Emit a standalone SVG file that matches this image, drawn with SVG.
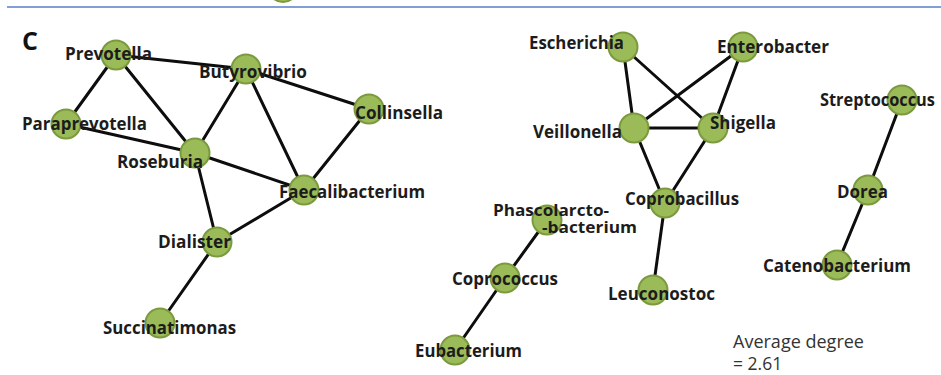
<svg xmlns="http://www.w3.org/2000/svg" width="941" height="375" viewBox="0 0 941 375">
  <style>
    .edge { stroke: #0d0d0d; stroke-width: 3; stroke-linecap: round; fill: none; }
    .node circle { fill: #9bbb59; stroke: #7b9a3e; stroke-width: 2; }
    .lbl { font-family: "Open Sans", "Liberation Sans", sans-serif; font-weight: 700; font-size: 17.5px; fill: #1c1c1c; }
    .lbl2 { font-family: "Open Sans", "Liberation Sans", sans-serif; font-weight: 700; font-size: 16px; fill: #1c1c1c; }
    .note { font-family: "Open Sans", "Liberation Sans", sans-serif; font-weight: 400; font-size: 17.5px; fill: #333333; }
    .panel { font-family: "Open Sans", "Liberation Sans", sans-serif; font-weight: 700; font-size: 25px; fill: #111111; }
  </style>
  <rect width="941" height="375" fill="#ffffff"/>

  <!-- separator from the panel above -->
  <circle cx="283" cy="-13" r="15" fill="#9bbb59" stroke="#7b9a3e" stroke-width="2"/>
  <line x1="7" y1="7" x2="941" y2="7" stroke="#7f9fd6" stroke-width="2"/>

  <text class="panel" x="22" y="50">C</text>

  <g id="edges">
    <line class="edge" x1="116" y1="55" x2="246" y2="69"/>
    <line class="edge" x1="116" y1="55" x2="66" y2="124"/>
    <line class="edge" x1="116" y1="55" x2="195" y2="153"/>
    <line class="edge" x1="66" y1="124" x2="195" y2="153"/>
    <line class="edge" x1="246" y1="69" x2="195" y2="153"/>
    <line class="edge" x1="246" y1="69" x2="304" y2="190"/>
    <line class="edge" x1="246" y1="69" x2="369" y2="109"/>
    <line class="edge" x1="369" y1="109" x2="304" y2="190"/>
    <line class="edge" x1="195" y1="153" x2="304" y2="190"/>
    <line class="edge" x1="195" y1="153" x2="217" y2="242"/>
    <line class="edge" x1="217" y1="242" x2="304" y2="190"/>
    <line class="edge" x1="217" y1="242" x2="160" y2="323"/>

    <line class="edge" x1="623" y1="47" x2="634" y2="128"/>
    <line class="edge" x1="623" y1="47" x2="713" y2="128"/>
    <line class="edge" x1="743" y1="47" x2="634" y2="128"/>
    <line class="edge" x1="743" y1="47" x2="713" y2="128"/>
    <line class="edge" x1="634" y1="128" x2="713" y2="128"/>
    <line class="edge" x1="634" y1="128" x2="665" y2="203"/>
    <line class="edge" x1="713" y1="128" x2="665" y2="203"/>
    <line class="edge" x1="665" y1="203" x2="653" y2="290"/>

    <line class="edge" x1="902" y1="100" x2="868" y2="190"/>
    <line class="edge" x1="868" y1="190" x2="837" y2="265"/>

    <line class="edge" x1="547" y1="220" x2="505" y2="278"/>
    <line class="edge" x1="505" y1="278" x2="455" y2="350"/>
  </g>

  <g id="node-prevotella" class="node"><circle cx="116" cy="55" r="14.5"/><text class="lbl" x="65" y="60" textLength="87" lengthAdjust="spacingAndGlyphs">Prevotella</text></g>
  <g id="node-butyrovibrio" class="node"><circle cx="246" cy="69" r="14.5"/><text class="lbl" x="199" y="78" textLength="108" lengthAdjust="spacingAndGlyphs">Butyrovibrio</text></g>
  <g id="node-collinsella" class="node"><circle cx="369" cy="109" r="14.5"/><text class="lbl" x="355" y="119" textLength="88" lengthAdjust="spacingAndGlyphs">Collinsella</text></g>
  <g id="node-paraprevotella" class="node"><circle cx="66" cy="124" r="14.5"/><text class="lbl" x="22" y="130" textLength="125" lengthAdjust="spacingAndGlyphs">Paraprevotella</text></g>
  <g id="node-roseburia" class="node"><circle cx="195" cy="153" r="14.5"/><text class="lbl" x="117" y="168" textLength="86" lengthAdjust="spacingAndGlyphs">Roseburia</text></g>
  <g id="node-faecalibacterium" class="node"><circle cx="304" cy="190" r="14.5"/><text class="lbl" x="279" y="198" textLength="146" lengthAdjust="spacingAndGlyphs">Faecalibacterium</text></g>
  <g id="node-dialister" class="node"><circle cx="217" cy="242" r="14.5"/><text class="lbl" x="158" y="248" textLength="73" lengthAdjust="spacingAndGlyphs">Dialister</text></g>
  <g id="node-succinatimonas" class="node"><circle cx="160" cy="323" r="14.5"/><text class="lbl" x="103" y="334" textLength="133" lengthAdjust="spacingAndGlyphs">Succinatimonas</text></g>

  <g id="node-escherichia" class="node"><circle cx="623" cy="47" r="14.5"/><text class="lbl" x="529" y="49" textLength="95" lengthAdjust="spacingAndGlyphs">Escherichia</text></g>
  <g id="node-enterobacter" class="node"><circle cx="743" cy="47" r="14.5"/><text class="lbl" x="717" y="53" textLength="112" lengthAdjust="spacingAndGlyphs">Enterobacter</text></g>
  <g id="node-veillonella" class="node"><circle cx="634" cy="128" r="14.5"/><text class="lbl" x="533" y="138" textLength="89" lengthAdjust="spacingAndGlyphs">Veillonella</text></g>
  <g id="node-shigella" class="node"><circle cx="713" cy="128" r="14.5"/><text class="lbl" x="710" y="129" textLength="66" lengthAdjust="spacingAndGlyphs">Shigella</text></g>
  <g id="node-coprobacillus" class="node"><circle cx="665" cy="203" r="14.5"/><text class="lbl" x="625" y="205" textLength="114" lengthAdjust="spacingAndGlyphs">Coprobacillus</text></g>
  <g id="node-leuconostoc" class="node"><circle cx="653" cy="290" r="14.5"/><text class="lbl" x="608" y="300" textLength="107" lengthAdjust="spacingAndGlyphs">Leuconostoc</text></g>

  <g id="node-streptococcus" class="node"><circle cx="902" cy="100" r="14.5"/><text class="lbl" x="820" y="106" textLength="115" lengthAdjust="spacingAndGlyphs">Streptococcus</text></g>
  <g id="node-dorea" class="node"><circle cx="868" cy="190" r="14.5"/><text class="lbl" x="837" y="198" textLength="51" lengthAdjust="spacingAndGlyphs">Dorea</text></g>
  <g id="node-catenobacterium" class="node"><circle cx="837" cy="265" r="14.5"/><text class="lbl" x="763" y="272" textLength="148" lengthAdjust="spacingAndGlyphs">Catenobacterium</text></g>

  <g id="node-phascolarctobacterium" class="node"><circle cx="547" cy="220" r="14.5"/>
    <text class="lbl2" x="493" y="216" textLength="116" lengthAdjust="spacingAndGlyphs">Phascolarcto-</text>
    <text class="lbl2" x="542" y="233" textLength="95" lengthAdjust="spacingAndGlyphs">-bacterium</text>
  </g>
  <g id="node-coprococcus" class="node"><circle cx="505" cy="278" r="14.5"/><text class="lbl" x="452" y="285" textLength="106" lengthAdjust="spacingAndGlyphs">Coprococcus</text></g>
  <g id="node-eubacterium" class="node"><circle cx="455" cy="350" r="14.5"/><text class="lbl" x="415" y="357" textLength="107" lengthAdjust="spacingAndGlyphs">Eubacterium</text></g>

  <text class="note" x="733" y="348" textLength="131" lengthAdjust="spacingAndGlyphs">Average degree</text>
  <text class="note" x="733" y="370">= 2.61</text>
</svg>
